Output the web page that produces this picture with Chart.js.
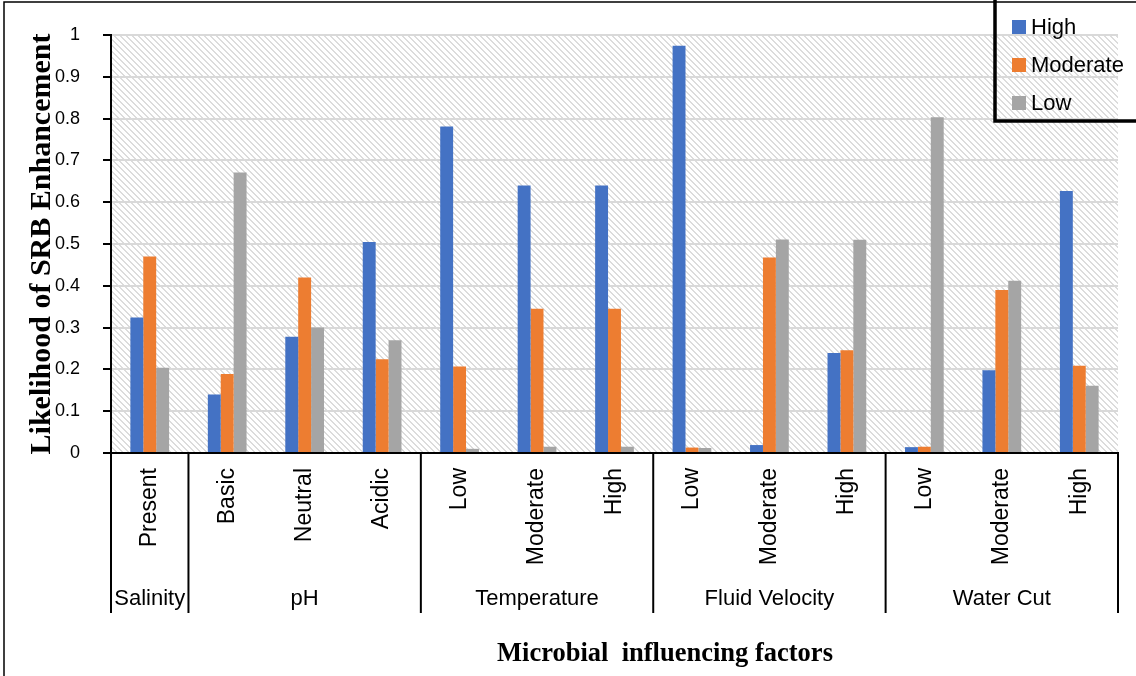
<!DOCTYPE html>
<html>
<head>
<meta charset="utf-8">
<script src="https://cdn.jsdelivr.net/npm/chart.js@4/dist/chart.umd.min.js"></script>
<style>
  html, body { margin: 0; padding: 0; background: #fff; }
  #wrap { width: 1136px; height: 676px; position: relative; }
</style>
</head>
<body>
<div id="wrap"><canvas id="grafico"></canvas></div>
<script>
// DATOS
const groups = ['Salinity', 'pH', 'Temperature', 'Fluid Velocity', 'Water Cut'];
const groupSizes = [1, 3, 3, 3, 3];
const categories = ['Present', 'Basic', 'Neutral', 'Acidic', 'Low', 'Moderate', 'High', 'Low', 'Moderate', 'High', 'Low', 'Moderate', 'High'];
const seriesNames = ['High', 'Moderate', 'Low'];
const highValues = [0.324, 0.140, 0.278, 0.505, 0.781, 0.640, 0.640, 0.974, 0.019, 0.239, 0.014, 0.198, 0.627];
const moderateValues = [0.470, 0.189, 0.420, 0.224, 0.207, 0.345, 0.345, 0.013, 0.468, 0.246, 0.015, 0.390, 0.209];
const lowValues = [0.204, 0.671, 0.300, 0.270, 0.010, 0.015, 0.015, 0.012, 0.511, 0.510, 0.803, 0.412, 0.161];
const yTicks = [0, 0.1, 0.2, 0.3, 0.4, 0.5, 0.6, 0.7, 0.8, 0.9, 1];
const colores = ['#4472C4', '#ED7D31', '#A5A5A5'];
// DATOS END

// fondo rayado
function patron() {
  const c = document.createElement('canvas');
  c.width = 6; c.height = 6;
  const g = c.getContext('2d');
  g.fillStyle = '#ffffff';
  g.fillRect(0, 0, 6, 6);
  g.fillStyle = '#dcdcdc';
  for (let y = 0; y < 6; y++) {
    for (let x = 0; x < 6; x++) {
      if (((x - y) % 6 + 6) % 6 < 2 && (x + y) % 2 === 0) g.fillRect(x, y, 1, 1);
      if (((x - y) % 6 + 6) % 6 === 1) g.fillRect(x, y, 1, 1);
    }
  }
  return c;
}

const fondo = {
  id: 'fondo',
  beforeDraw(chart) {
    const { ctx, chartArea: a } = chart;
    ctx.save();
    ctx.fillStyle = ctx.createPattern(patron(), 'repeat');
    ctx.fillRect(a.left, a.top, a.right - a.left, a.bottom - a.top);
    ctx.restore();
  }
};

const extras = {
  id: 'extras',
  afterDraw(chart) {
    const { ctx, chartArea: a } = chart;
    const xs = chart.scales.x;
    const bottom = 613;
    ctx.save();
    // separadores y grupos
    let bounds = [a.left];
    let idx = 0;
    groupSizes.forEach((n, gi) => {
      idx += n;
      if (idx < categories.length) {
        bounds.push((xs.getPixelForValue(idx - 1) + xs.getPixelForValue(idx)) / 2);
      } else {
        bounds.push(a.right);
      }
    });
    ctx.strokeStyle = '#000';
    ctx.lineWidth = 2;
    bounds.forEach(b => {
      ctx.beginPath();
      ctx.moveTo(b, a.bottom);
      ctx.lineTo(b, bottom);
      ctx.stroke();
    });
    ctx.fillStyle = '#000';
    ctx.font = '22px "Liberation Sans", Arial, sans-serif';
    ctx.textAlign = 'center';
    ctx.textBaseline = 'alphabetic';
    groups.forEach((g, i) => {
      ctx.fillText(g, (bounds[i] + bounds[i + 1]) / 2, 605);
    });
    // titulo eje x
    ctx.font = 'bold 26.5px "Liberation Serif", "Times New Roman", serif';
    ctx.textBaseline = 'middle';
    ctx.fillText('Microbial  influencing factors', 665, 654);
    // borde exterior
    ctx.lineWidth = 1.5;
    ctx.beginPath();
    ctx.moveTo(4, 676);
    ctx.lineTo(4, 2);
    ctx.lineTo(1136, 2);
    ctx.stroke();
    // leyenda
    ctx.lineWidth = 3.5;
    ctx.strokeRect(995, -5, 150, 126);
    ctx.font = '22px "Liberation Sans", Arial, sans-serif';
    ctx.textAlign = 'left';
    ctx.textBaseline = 'middle';
    const filas = [27, 65, 103];
    seriesNames.forEach((s, i) => {
      ctx.fillStyle = colores[i];
      ctx.fillRect(1012, filas[i] - 7, 14, 14);
      ctx.fillStyle = '#000';
      ctx.fillText(s, 1031, filas[i] + 1);
    });
    ctx.restore();
  }
};

const data = {
  labels: categories,
  datasets: [
    { label: seriesNames[0], data: highValues, backgroundColor: colores[0] },
    { label: seriesNames[1], data: moderateValues, backgroundColor: colores[1] },
    { label: seriesNames[2], data: lowValues, backgroundColor: colores[2] }
  ]
};

const config = {
  type: 'bar',
  data: data,
  options: {
    responsive: true,
    maintainAspectRatio: false,
    animation: false,
    categoryPercentage: 0.5,
    barPercentage: 1.0,
    layout: { padding: { left: 0, top: 35, right: 18, bottom: 63 } },
    plugins: {
      legend: { display: false },
      tooltip: { enabled: false }
    },
    scales: {
      x: {
        grid: { display: false, drawTicks: false },
        border: { display: true, color: '#000', width: 2 },
        ticks: {
          autoSkip: false,
          minRotation: 90,
          maxRotation: 90,
          padding: 15,
          color: '#000',
          font: { family: '"Liberation Sans", Arial, sans-serif', size: 23 }
        },
        afterFit(scale) { scale.height = 160; }
      },
      y: {
        min: 0,
        max: 1,
        afterBuildTicks(scale) { scale.ticks = yTicks.map(v => ({ value: v })); },
        grid: { color: '#d9d9d9', lineWidth: 2, tickColor: '#000', tickLength: 8 },
        border: { display: true, color: '#000', width: 2 },
        ticks: {
          padding: 23,
          color: '#000',
          font: { family: '"Liberation Sans", Arial, sans-serif', size: 18 },
          callback: v => String(Number(v.toFixed(1)))
        },
        title: {
          display: true,
          text: 'Likelihood of SRB Enhancement',
          color: '#000',
          font: { family: '"Liberation Serif", "Times New Roman", serif', size: 30, weight: 'bold' },
          padding: { top: 24, bottom: 0 }
        },
        afterFit(scale) { scale.width = 111; }
      }
    }
  },
  plugins: [fondo, extras]
};
new Chart(document.getElementById('grafico'), config);
</script>
</body>
</html>
